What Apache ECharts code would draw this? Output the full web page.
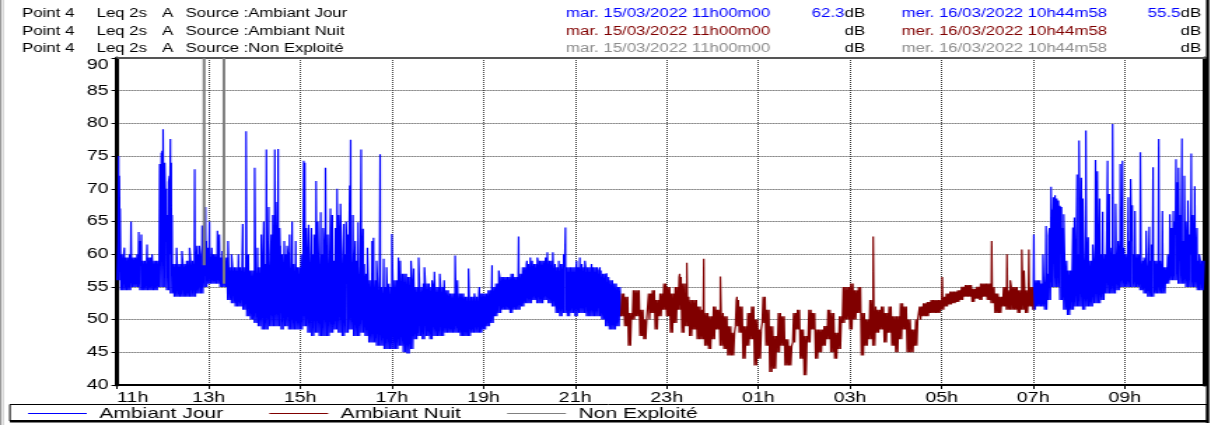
<!DOCTYPE html>
<html>
<head>
<meta charset="utf-8">
<title>Point 4 - Leq 2s A</title>
<script src="https://cdn.jsdelivr.net/npm/echarts@6/dist/echarts.min.js"></script>
<style>
  html, body { margin: 0; padding: 0; background: #fff; overflow: hidden; }
  #wrap { width: 1211px; height: 425px; overflow: hidden; position: relative; }
  /* the chart is laid out narrow and widened horizontally */
  #chart { width: 865px; height: 425px; transform: scaleX(1.4); transform-origin: 0 0; }
</style>
</head>
<body>
<div id="wrap"><div id="chart"></div></div>
<script>
// Time is counted in minutes from 11h00 on 15/03/2022; one bucket = 5 minutes.
const BUCKET_MIN = 5;
const END_MIN = 1425;          // 10h45 on 16/03/2022
const NIGHT_START = 660;       // 22h00
const NIGHT_END = 1200;        // 07h00
const TICK_STEP = 120;         // one label every two hours

// Lower edge of the Leq 2s trace in each 5-minute bucket (dB)
const lowLevel = [
  56,54.5,54.5,54.5,55,55,54.5,54.5,54.5,54.5,54.5,55,          // 11h
  55,54.5,54,53.5,53.5,53.5,53.5,53.5,53.5,54,54,55,            // 12h
  55.5,55.5,55.5,55,55,53,52.5,52,52,51.5,50.5,50,              // 13h
  49.5,49,48.5,48.5,49,49,49,48.5,49,48.5,48.5,48.5,            // 14h
  48.5,49,48,47.5,48,47.5,47.5,47.5,48,48.5,48,47.5,            // 15h
  48,48.5,47.5,47.5,48,47.5,46.5,46.5,46,46,45.5,45.5,          // 16h
  45.5,45.5,46,45,44.8,45.5,47,47.5,47,47.5,47,47.5,            // 17h
  47.5,47.5,48,48,48,48,47.5,47.5,47.5,48,48,48,                // 18h
  48.5,49,49.5,50.5,51,51.5,51.5,51,51.5,51.5,52,52.5,          // 19h
  52.5,53,52.5,52.5,53,52.5,52,51,50.5,51,50.5,51,              // 20h
  50.5,51,51,50.5,50.5,50.5,50.5,50,49,48.5,48.5,49,            // 21h
  50.5,49,46,50,50.5,47.5,47,50,51,48.5,50.5,51.5,              // 22h
  50.5,48,49.5,51.5,48,49,47.5,48.5,47,47,46,45.5,              // 23h
  47,48.5,46,45.5,44.5,44.5,49,48,44,46,47,43,                  // 00h
  44,49.5,46,42,42.5,45,46,43,43,46.5,48.5,44,                  // 01h
  41.5,46.5,48.5,44,45,46,47,45,44,45.5,49.5,50,                // 02h
  48.5,50,51,44.5,46,47,46,48,48.5,46.5,48,46,                  // 03h
  45,47,48.5,45,45,46,50,50.5,50.5,51,51,51,                    // 04h
  51.5,52,52.3,52.5,52.7,53,53.5,53.5,52.7,53.2,53,53.5,        // 05h
  53,52.5,51,51,52,51.5,51.5,51.5,51,51.5,51,52,                // 06h
  51.5,52,52,51.5,53,55,55,53,51.5,50.7,51.5,52,                // 07h
  52,51.5,52,52,52.5,52.5,53,54,54,54,54.5,55,                  // 08h
  55,55,55,55,54.5,54,53.5,53.5,54,54,54,55.5,                  // 09h
  56,56,55.5,55.5,55,55,55,54.5,54.5                            // 10h
];

// Upper edge of the trace in each bucket (dB)
const highLevel = [
  62,60,59.5,60,59.5,60,59,59,59.5,59,59,62,                    // 11h
  62,60,58.5,58.5,58.5,58.5,59,59,59,60,61,61,                  // 12h
  60,60,60,59.5,59.5,58,58,58,58,58,57.5,57.5,                  // 13h
  58,58,58.5,59,60,60,60,60,60,59,58.5,58,                      // 14h
  60,60,60,60,59.5,60,60,60,59,59,60,60,                        // 15h
  60,60,59,58,58.5,57,56,56,55.5,55,55,55,                      // 16h
  56,56,57,57,56.5,56,55,55,55.5,55.5,55,55,                    // 17h
  55,55,54.5,54,54,54,54,53.5,53.5,53.5,53.5,54,                // 18h
  54,54.5,55,55.5,56.5,56.5,56.5,57,56.5,57,58,58.5,            // 19h
  59,58.5,59,59,59.5,59,58.5,58,58.5,58,58,58,                  // 20h
  58,58.5,58,58,58,58,57.5,57,56.5,56,55.5,55,                  // 21h
  54,53.5,51,54.5,54.5,51.5,50,54,54.5,53,54,55.5,              // 22h
  55,54,55,56.5,55.5,53.5,53,53,52,51.5,51,50.5,                // 23h
  52,51.5,51,50.5,49,48,53,52,49,51,52,50,                      // 00h
  48.5,53.5,51.5,49,47.5,51,50.5,47,46,51,51.5,48.5,            // 01h
  47.5,51.5,51,48.5,48.5,49,51.5,51,48,50.5,55,55,              // 02h
  55.5,54.5,55,51,50,53,52,51.5,52,51,52,50.5,                  // 03h
  50.5,52.5,52,50,48.5,50,52,52.5,52.7,53,53,53,                // 04h
  53.5,54,54.3,54.3,54.5,55,55.3,55.3,54.7,55,55.5,55.5,        // 05h
  55.5,55,54,53.5,55,54.5,55,55,54.5,55,54.5,55,                // 06h
  56,56,55.5,57,64,67,66,64,59,57.5,59,60,                      // 07h
  62,60,59,59,62,60,60,62,61,60,62,61,                          // 08h
  60,62,60,60,59,58.5,59,59,59,59,58,60,                        // 09h
  61,63,61,62,60,60,60,59,59                                    // 10h
];

// Short noise events: [minute, peak level dB]
const peaks = [
  [2,75],[3,72],[4,67],[9.6,61],[18.3,65],[28.4,63.4],[30,62],[31.9,63],[39.3,61.5],[45.9,60],
  [55.9,73.8],[57,70],[58,75.5],[59,75.8],[60.3,79.1],[61.3,72],[62.5,74],[63.5,68],[64.5,70],
  [65.5,66],[66.5,64],[67.5,71],[68.6,72],[69.9,77.6],[71,74],[72,66],
  [78,61],[85,60.5],[95,61],[101.7,73],[104.9,61.3],[107.8,61.3],[111.4,64.4],[113,60],[115.8,67.2],[117,62],
  [121,65],[124,61],[131.5,63.6],[134,63],[138,60.5],[145.4,62],[150,60],[159,60],[164.6,64.6],[169,78.8],[172,60],
  [180.3,73.2],[184,61],[189,63],[192.1,65],[195.6,76],[198.7,67.2],[202,63],[204,66],[206.6,76],[208,68],
  [211,76.1],[213,64],[214,61.3],[219,62],[222.7,61.3],[226,63],[229.3,65],[234,62],
  [244.5,74.3],[246,74],[248,64],[251,64.5],[254.6,64],[258,63],[260.7,71.2],[263,65],[266.8,66.4],[270,64],
  [273,73.2],[276,63],[279.5,67],[282,66],[286,64],[288.2,70],[290,66],[292.6,67.7],[297,64.6],
  [300,65],[302,63],[304.7,70.5],[306,77.5],[309,66],[312,62],[315.8,64.9],[319.7,76],[322.3,63.9],[328,61],
  [334,62],[336,62.5],[340,59],[344.6,75.3],[349.3,59.3],[353,58],[356,55.5],[360,63.1],
  [368.5,59.5],[371,59],[385,59],[388.6,57.8],[395,59.5],[402.6,58],[412.6,56],[415.7,57.3],
  [422.7,57],[428.4,56],[442.8,59.8],[445.9,56],[460.3,57.8],[468,54],[474.5,55],
  [491.2,58.3],[500,57.5],[526,62.7],[536.9,59],
  [541.3,59.5],[550.5,59.5],[563.6,60.3],[570.8,60.3],[578.6,59],[585,60],[587.3,64.1],
  [602,59],[606.2,59.5],[612.8,59],[621.5,58.5],[632.4,58],[641.1,57.1],
  [737,57],[746.3,58.7],[768.5,59.3],[790.2,56.6],[812,53.5],[990.4,62.7],[1080.8,56.5],
  [1145.6,62],[1165.6,60],[1170,56],[1185,60.7],[1188,57.5],[1194.3,60.7],
  [1200.8,63],[1212.8,60],[1216.8,64.3],[1220.3,62.8],[1223.4,70.3],[1225,66],[1226.5,68.7],[1228.6,69],
  [1230.8,68.5],[1233,68.2],[1235,67.4],[1237,67.2],[1240,66.1],[1252,64.1],[1254,65.6],[1257.4,72.2],
  [1260,77.4],[1263,71.7],[1265,68.5],[1269,78.9],[1272,62.6],[1278,61.5],[1281.6,74.4],[1284,72.7],
  [1287,68.5],[1291,66.5],[1297.4,74.3],[1299.6,69.2],[1304,79.9],[1308,67.7],[1314,73.8],[1317,74.3],
  [1324.5,68.7],[1327.6,71.5],[1329.8,67.5],[1333.3,66.6],[1340.3,75.6],[1345,59.5],[1348,63.6],[1352,64.2],
  [1355,61.5],[1357,73.3],[1364.4,77.6],[1369.2,66.6],[1374.4,58],[1379,66.1],[1381,64],[1383.5,66.6],
  [1385,65],[1387,74.5],[1389,71],[1390.4,73.2],[1392,66],[1394.8,77.7],[1398,72],[1400,65],[1402.6,68.2],
  [1405,63],[1407,75.4],[1409,66],[1411.5,70.4],[1414.5,64],[1417.5,60]
];

// Periods flagged "Non Exploité": [minute, level where the trace resumes]
const nonExploite = [[114, 58.3], [140, 55.5]];

// Header lines
const sourceNames = ['Ambiant Jour', 'Ambiant Nuit', 'Non Exploité'];
const sourceColors = ['#0000ff', '#800000', '#8c8c8c'];
const startStamp = 'mar. 15/03/2022 11h00m00';
const endStamp = 'mer. 16/03/2022 10h44m58';
const startValues = ['62.3', '', ''];
const endValues = ['55.5', '', ''];

// ---------- build the trace ----------
// each bucket swings between its lower and upper edge twice
const SWINGS = [0, 1, 0, 1];
function buildTrace() {
  const pts = [];
  const step = BUCKET_MIN / SWINGS.length;
  for (let k = 0; k < lowLevel.length; k++) {
    const t = k * BUCKET_MIN;
    SWINGS.forEach((s, j) => pts.push([t + j * step, s ? highLevel[k] : lowLevel[k]]));
  }
  peaks.forEach(p => pts.push([p[0], p[1]]));
  pts.sort((a, b) => a[0] - b[0]);
  return pts;
}
const trace = buildTrace();
const dayData = [];
const nightData = [];
trace.forEach(p => {
  if (p[0] >= NIGHT_START && p[0] <= NIGHT_END) nightData.push(p);
  if (p[0] <= NIGHT_START || p[0] >= NIGHT_END) dayData.push(p);
});
// break the day line across the night
const splitAt = dayData.findIndex(p => p[0] >= NIGHT_END);
dayData.splice(splitAt, 0, [(NIGHT_START + NIGHT_END) / 2, '-']);

const flagData = [];
nonExploite.forEach((p, i) => {
  if (i > 0) flagData.push([(p[0] + nonExploite[i - 1][0]) / 2, '-']);
  flagData.push([p[0], p[1]]);
  flagData.push([p[0], 90]);
});

function hourLabel(v) {
  const h = (11 + Math.round(v / 60)) % 24;
  return (h < 10 ? '0' : '') + h + 'h';
}

// ---------- header ----------
const FONT = '"Liberation Sans", Arial, Helvetica, sans-serif';
const header = [];
const rowY = [14, 31.5, 48.5];
sourceNames.forEach((name, i) => {
  const y = rowY[i];
  const base = { fontFamily: FONT, fontSize: 12, fill: '#000', verticalAlign: 'middle' };
  header.push({ type: 'text', x: 15.7, y, style: Object.assign({}, base, { text: 'Point 4' }) });
  header.push({ type: 'text', x: 69, y, style: Object.assign({}, base, { text: 'Leq 2s' }) });
  header.push({ type: 'text', x: 115.7, y, style: Object.assign({}, base, { text: 'A' }) });
  header.push({ type: 'text', x: 132.6, y, style: Object.assign({}, base, { text: 'Source :' + name }) });
  header.push({ type: 'text', x: 404.3, y, style: Object.assign({}, base, { text: startStamp, fill: sourceColors[i] }) });
  header.push({ type: 'text', x: 617.9, y, style: Object.assign({}, base, {
    text: '{v|' + startValues[i] + '}dB', align: 'right',
    rich: { v: { fill: sourceColors[i], fontFamily: FONT, fontSize: 12 } } }) });
  header.push({ type: 'text', x: 644, y, style: Object.assign({}, base, { text: endStamp, fill: sourceColors[i] }) });
  header.push({ type: 'text', x: 857.9, y, style: Object.assign({}, base, {
    text: '{v|' + endValues[i] + '}dB', align: 'right',
    rich: { v: { fill: sourceColors[i], fontFamily: FONT, fontSize: 12 } } }) });
});

// frame pieces
const frame = [
  { type: 'rect', shape: { x: 0, y: 0, width: 1.2, height: 425 }, style: { fill: '#9a9a9a' }, silent: true },
  { type: 'rect', shape: { x: 1.9, y: 0, width: 0.8, height: 425 }, style: { fill: '#c8c8c8' }, silent: true },
  { type: 'rect', shape: { x: 7.1, y: 404.5, width: 855, height: 16.5 }, style: { fill: 'none', stroke: '#000', lineWidth: 1 }, silent: true },
  { type: 'rect', shape: { x: 7.1, y: 420, width: 856, height: 2.5 }, style: { fill: '#000' }, silent: true },
  { type: 'rect', shape: { x: 861.5, y: 0, width: 2.2, height: 423 }, style: { fill: '#000' }, silent: true }
];

const chart = echarts.init(document.getElementById('chart'), null, { renderer: 'canvas' });
const gridLine = { show: true, lineStyle: { type: 'dotted', color: '#3c3c3c', width: 1 } };

chart.setOption({
  animation: false,
  backgroundColor: '#fff',
  textStyle: { fontFamily: FONT },
  grid: { left: 83.6, right: 4.3, top: 58, bottom: 40, containLabel: false },
  xAxis: [
    {
      type: 'value', position: 'bottom', min: 0, max: END_MIN, interval: TICK_STEP,
      axisLine: { lineStyle: { color: '#000', width: 2 } },
      axisTick: { show: true, length: 4, lineStyle: { color: '#000', width: 1 } },
      axisLabel: { color: '#000', fontSize: 14, fontFamily: FONT, margin: 6,
        formatter: hourLabel, showMaxLabel: false, alignMinLabel: 'left' },
      splitLine: gridLine
    },
    {
      type: 'value', position: 'top', min: 0, max: END_MIN,
      axisLine: { show: true, onZero: false, lineStyle: { color: '#555', width: 2 } },
      axisTick: { show: false }, axisLabel: { show: false }, splitLine: { show: false }
    }
  ],
  yAxis: [
    {
      type: 'value', position: 'left', min: 40, max: 90, interval: 5,
      axisLine: { show: true, onZero: false, lineStyle: { color: '#000', width: 3 } },
      axisTick: { show: true, length: 4, lineStyle: { color: '#000', width: 1 } },
      axisLabel: { color: '#000', fontSize: 14, fontFamily: FONT, margin: 6,
        verticalAlignMaxLabel: 'top' },
      splitLine: gridLine
    },
    {
      type: 'value', position: 'right', min: 40, max: 90,
      axisLine: { show: true, onZero: false, lineStyle: { color: '#000', width: 3 } },
      axisTick: { show: false }, axisLabel: { show: false }, splitLine: { show: false }
    }
  ],
  legend: {
    left: 20, top: 405.5, padding: 0, itemWidth: 42, itemHeight: 1.2, itemGap: 33,
    icon: 'rect',
    data: sourceNames,
    textStyle: { color: '#000', fontSize: 15, fontFamily: FONT, padding: [0, 0, 0, 4], lineHeight: 16 }
  },
  series: [
    { name: sourceNames[0], type: 'line', xAxisIndex: 0, yAxisIndex: 0, data: dayData,
      symbol: 'none', connectNulls: false, lineStyle: { color: sourceColors[0], width: 1.2 },
      itemStyle: { color: sourceColors[0] }, z: 3 },
    { name: sourceNames[1], type: 'line', xAxisIndex: 0, yAxisIndex: 0, data: nightData,
      symbol: 'none', lineStyle: { color: sourceColors[1], width: 1.2 },
      itemStyle: { color: sourceColors[1] }, z: 3 },
    { name: sourceNames[2], type: 'line', xAxisIndex: 0, yAxisIndex: 0, data: flagData,
      symbol: 'none', connectNulls: false, lineStyle: { color: '#808080', width: 2 },
      itemStyle: { color: '#808080' }, z: 4 }
  ],
  graphic: header.concat(frame)
});
</script>
</body>
</html>
